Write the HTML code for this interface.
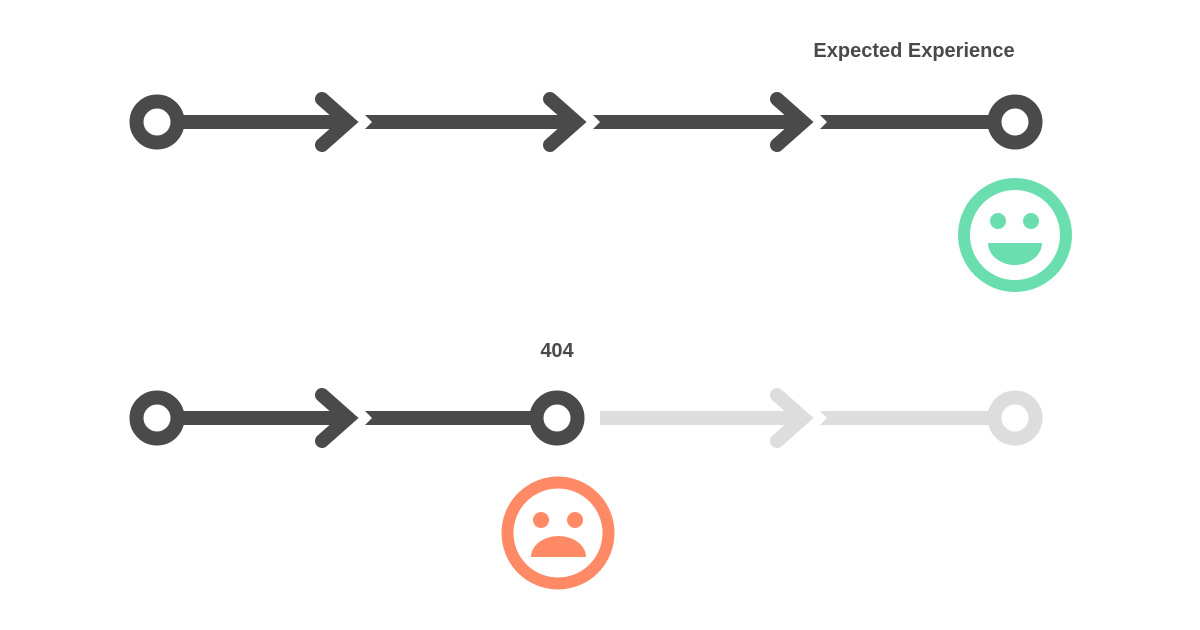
<!DOCTYPE html>
<html><head><style>
html,body{margin:0;padding:0;background:#fff;width:1200px;height:630px;overflow:hidden}
</style></head><body>
<svg width="1200" height="630" viewBox="0 0 1200 630" xmlns="http://www.w3.org/2000/svg">
<g font-family="Liberation Sans, sans-serif" font-weight="bold" font-size="20" fill="#4a4a4a">
<text x="914" y="57" text-anchor="middle">Expected Experience</text>
<text x="557" y="357" text-anchor="middle">404</text>
</g>
<!-- Row 1 -->
<g fill="#4a4a4a" stroke="none">
<rect x="175" y="115" width="172" height="14"/>
<polygon points="365,115 574,115 574,129 365,129 372,122"/>
<polygon points="593,115 802,115 802,129 593,129 600,122"/>
<polygon points="820,115 1000,115 1000,129 820,129 827,122"/>
</g>
<g fill="none" stroke="#4a4a4a" stroke-width="14" stroke-linecap="round" stroke-linejoin="miter">
<polyline points="322,99 348,122 322,145"/>
<polyline points="550,99 576,122 550,145"/>
<polyline points="777,99 803,122 777,145"/>
<circle cx="157" cy="122" r="20.5"/>
<circle cx="1015" cy="122" r="20.5"/>
</g>
<!-- Row 2 -->
<g fill="#4a4a4a">
<rect x="175" y="411" width="172" height="14"/>
<polygon points="365,411 540,411 540,425 365,425 372,418"/>
</g>
<g fill="#dddddd">
<polygon points="600,411 802,411 802,425 600,425"/>
<polygon points="820,411 1000,411 1000,425 820,425 827,418"/>
</g>
<g fill="none" stroke-width="14" stroke-linecap="round">
<polyline stroke="#4a4a4a" points="322,395 348,418 322,441"/>
<polyline stroke="#dddddd" points="777,395 803,418 777,441"/>
<circle stroke="#4a4a4a" cx="157" cy="418" r="20.5"/>
<circle stroke="#4a4a4a" cx="557" cy="418" r="20.5"/>
<circle stroke="#dddddd" cx="1015" cy="418" r="20.5"/>
</g>
<!-- Happy -->
<circle cx="1015" cy="235" r="51" fill="none" stroke="#6bdeb0" stroke-width="12"/>
<circle cx="998" cy="221" r="8" fill="#6bdeb0"/>
<circle cx="1031" cy="221" r="8" fill="#6bdeb0"/>
<path d="M988,243 L1042,243 A27,22 0 0 1 988,243 Z" fill="#6bdeb0"/>
<!-- Sad -->
<circle cx="558" cy="533" r="50.5" fill="none" stroke="#ff8a65" stroke-width="12"/>
<circle cx="541" cy="520" r="8" fill="#ff8a65"/>
<circle cx="575" cy="520" r="8" fill="#ff8a65"/>
<path d="M531,557 L586,557 A27.5,21 0 0 0 531,557 Z" fill="#ff8a65"/>
</svg>
</body></html>
